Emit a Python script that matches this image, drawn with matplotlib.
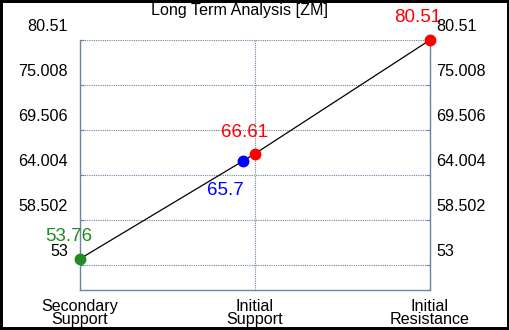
import matplotlib
matplotlib.use("Agg")
import matplotlib.pyplot as plt
import matplotlib.transforms as mtransforms
from matplotlib.patches import Rectangle

plt.rcParams['font.family'] = ['Liberation Sans', 'DejaVu Sans']

categories = ["Secondary\nSupport", "Initial\nSupport", "Initial\nResistance"]
yticks = [53, 58.502, 64.004, 69.506, 75.008, 80.51]
ylim = (49.943, 80.51)

# path of the line: secondary support -> current -> initial support -> resistance
line_x = [0, 0.93, 1, 2]
line_y = [53.76, 65.7, 66.61, 80.51]

point_x = [0, 0.93, 1, 2]
point_y = [53.76, 65.7, 66.61, 80.51]
point_labels = ["53.76", "65.7", "66.61", "80.51"]
point_colors = ["#228b22", "#0000ff", "#ff0000", "#ff0000"]
# label offsets in pixels (dx, dy)
label_offsets = [(-11, 22), (-17, -29), (-10, 21), (-12, 22)]

spine_col = "#6d84a9"

fig = plt.figure(figsize=(5.1, 3.3), dpi=100)
ax = fig.add_axes([80 / 510, 40 / 330, 350 / 510, 250 / 330])

ax.plot(line_x, line_y, color="black", lw=0.9, zorder=2)
for x, y, lab, c, (dx, dy) in zip(point_x, point_y, point_labels, point_colors, label_offsets):
    ax.plot(x, y, "o", color=c, ms=7.5, zorder=3, clip_on=False)
    ax.annotate(lab, (x, y), xytext=(dx * 0.72, dy * 0.72), textcoords="offset points",
                ha="center", va="center", color=c, fontsize=13.5)

ax.set_xlim(0, 2)
ax.set_ylim(*ylim)
ax.set_xticks([0, 1, 2])
ax.set_xticklabels(categories, linespacing=0.85)
ax.tick_params(axis="x", length=0, pad=6.5, labelsize=11.6)

ax.set_yticks(yticks)
ax.tick_params(axis="y", direction="in", length=3, color=spine_col,
               left=True, right=True, labelleft=False, labelright=False)

# y labels sit above their gridline on both sides
trans = mtransforms.blended_transform_factory(ax.transAxes, ax.transData)
up = mtransforms.ScaledTranslation(0, 13 / 100, fig.dpi_scale_trans)
for v in yticks:
    ax.text(-12 / 350, v, f"{v:g}", transform=trans + up, ha="right", va="center",
            fontsize=11.6, clip_on=False)
    ax.text(1 + 6 / 350, v, f"{v:g}", transform=trans + up, ha="left", va="center",
            fontsize=11.6, clip_on=False)

ax.grid(True, color=spine_col, ls=(0, (1, 1)), lw=0.8)
ax.spines["top"].set_visible(False)
for s in ["left", "right", "bottom"]:
    ax.spines[s].set_color(spine_col)
    ax.spines[s].set_linewidth(1)

fig.text(240 / 510, 1 - 11 / 330, "Long Term Analysis [ZM]", ha="center", va="center", fontsize=11.6)

fig.add_artist(Rectangle((0, 0), 1, 1, transform=fig.transFigure, fill=False,
                         edgecolor="black", lw=4.3))

fig.savefig("out.png", dpi=100)
